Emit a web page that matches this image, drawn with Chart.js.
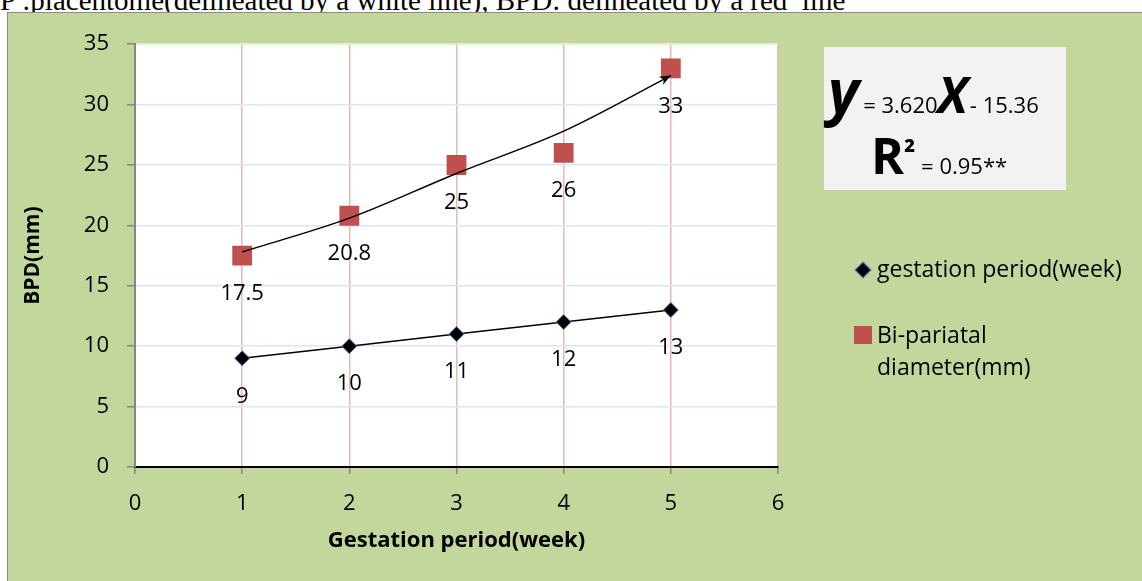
<!DOCTYPE html>
<html lang="en">
<head>
  <meta charset="UTF-8">
  <title>BPD vs gestation period</title>
  <style>
    body { margin: 0; width: 1142px; height: 581px; overflow: hidden; position: relative; background: #fff; }
    #caption {
      position: absolute; left: 0; top: -15px;
      font: 29px "Liberation Serif", serif; line-height: 30px; white-space: nowrap;
    }
    #panel {
      position: absolute; left: 7px; top: 12px; width: 1134px; height: 568px;
      background: #c3d69b; border-left: 1px solid #8c8c8c; border-top: 1px solid #8c8c8c;
    }
    #equation {
      position: absolute; left: 824px; top: 47px; width: 242px; height: 143px;
      background: #f2f2f2; font-family: "Open Sans", sans-serif; color: #000;
    }
    #equation .row { position: absolute; white-space: nowrap; }
    .big { font-weight: bold; font-style: italic; }
  </style>
</head>
<body>
  <div id="caption">P :placentome(delineated by a white line), BPD: delineated by a red&nbsp; line</div>
  <div id="panel">
    <canvas id="chart"></canvas>
  </div>
  <div id="equation">
    <div class="row" style="left:4px; top:17px; line-height:52px;">
      <span class="big" style="font-size:60px; margin-right:4px;">y</span><span style="font-size:22px;">= 3.620</span><span class="big" style="font-size:50px; margin-right:2px;">X</span><span style="font-size:22px;">- 15.36</span>
    </div>
    <div class="row" style="left:47px; top:82px; line-height:52px;">
      <span style="font-size:50px; font-weight:bold;">R</span><span style="font-size:30px; font-weight:bold; vertical-align:top; position:relative; top:-2px;">²</span><span style="font-size:22px;"> = 0.95**</span>
    </div>
  </div>

  <script src="https://cdn.jsdelivr.net/npm/chart.js"></script>
  <script>
    // values
    const weeks = [1, 2, 3, 4, 5];
    const gestation = [9, 10, 11, 12, 13];
    const bpd = [17.5, 20.8, 25, 26, 33];
    // hand drawn arrow curve over the BPD points
    const arrowCurve = [17.8, 20.6, 24.3, 27.8, 32.4];
    const xTicks = [0, 1, 2, 3, 4, 5, 6];
    const yTicks = [0, 5, 10, 15, 20, 25, 30, 35];

    const legendNames = [['gestation period(week)'], ['Bi-pariatal', 'diameter(mm)']];

    Chart.defaults.font.family = '"Open Sans", sans-serif';
    Chart.defaults.font.size = 22;
    Chart.defaults.color = '#000';

    const toPoints = vals => vals.map((v, i) => ({ x: weeks[i], y: v }));

    // white plot area on the green panel
    const plotBg = {
      id: 'plotBg',
      beforeDraw(chart) {
        const { ctx, chartArea: a } = chart;
        ctx.save();
        ctx.fillStyle = '#fff';
        ctx.fillRect(a.left, a.top, a.right - a.left, a.bottom - a.top);
        ctx.restore();
      }
    };

    // value labels under each marker, arrow head, legend
    const extras = {
      id: 'extras',
      afterDatasetsDraw(chart) {
        const ctx = chart.ctx;
        ctx.save();
        ctx.font = '22px "Open Sans", sans-serif';
        ctx.fillStyle = '#000';
        ctx.textAlign = 'center';
        ctx.textBaseline = 'middle';
        [1, 2].forEach(i => {
          const ds = chart.data.datasets[i];
          chart.getDatasetMeta(i).data.forEach((pt, j) => {
            ctx.fillText(String(ds.data[j].y), pt.x, pt.y + 38);
          });
        });

        // arrow head at end of the curve
        const pts = chart.getDatasetMeta(0).data;
        const p1 = pts[pts.length - 2], p2 = pts[pts.length - 1];
        const ang = Math.atan2(p2.y - p1.y, p2.x - p1.x);
        ctx.translate(p2.x, p2.y);
        ctx.rotate(ang);
        ctx.beginPath();
        ctx.moveTo(0, 0);
        ctx.lineTo(-11, -4.5);
        ctx.lineTo(-8, 0);
        ctx.lineTo(-11, 4.5);
        ctx.closePath();
        ctx.fillStyle = '#000';
        ctx.fill();
        ctx.restore();
      },
      afterDraw(chart) {
        const ctx = chart.ctx;
        ctx.save();
        // diamond
        const dx = 855, dy = 257;
        ctx.beginPath();
        ctx.moveTo(dx, dy - 8); ctx.lineTo(dx + 8, dy); ctx.lineTo(dx, dy + 8); ctx.lineTo(dx - 8, dy);
        ctx.closePath();
        ctx.fillStyle = '#000'; ctx.fill();
        ctx.strokeStyle = '#4f81bd'; ctx.lineWidth = 1.2; ctx.stroke();
        // square
        ctx.fillStyle = '#c0504d';
        ctx.fillRect(846, 313, 18, 18);

        ctx.font = '23px "Open Sans", sans-serif';
        ctx.fillStyle = '#000';
        ctx.textAlign = 'left';
        ctx.textBaseline = 'middle';
        ctx.fillText(legendNames[0][0], 869, 257);
        ctx.fillText(legendNames[1][0], 869, 323);
        ctx.fillText(legendNames[1][1], 869, 355);
        ctx.restore();
      }
    };

    new Chart(document.getElementById('chart'), {
      type: 'scatter',
      data: {
        datasets: [
          {
            label: 'arrow',
            data: toPoints(arrowCurve),
            showLine: true,
            borderColor: '#000',
            borderWidth: 1.5,
            cubicInterpolationMode: 'monotone',
            pointRadius: 0,
            order: 0
          },
          {
            label: legendNames[0][0],
            data: toPoints(gestation),
            showLine: true,
            borderColor: '#000',
            borderWidth: 1.5,
            pointStyle: 'rectRot',
            pointRadius: 7.5,
            pointBackgroundColor: '#000',
            pointBorderColor: '#4f81bd',
            pointBorderWidth: 1,
            order: 1
          },
          {
            label: legendNames[1].join(' '),
            data: toPoints(bpd),
            showLine: false,
            pointStyle: 'rect',
            pointRadius: 14,
            pointBackgroundColor: '#c0504d',
            pointBorderColor: '#c0504d',
            pointBorderWidth: 0,
            order: 2
          }
        ]
      },
      options: {
        responsive: true,
        maintainAspectRatio: false,
        animation: false,
        layout: { padding: { left: 0, right: 364, top: 30, bottom: 0 } },
        plugins: { legend: { display: false }, tooltip: { enabled: false } },
        scales: {
          x: {
            type: 'linear',
            min: 0, max: 6,
            afterBuildTicks: s => { s.ticks = xTicks.map(v => ({ value: v })); },
            afterFit: s => { s.height = 114; },
            grid: { color: '#e6b9b8', lineWidth: 1.5, tickColor: '#868686', tickLength: 7 },
            border: { color: '#000', width: 2 },
            ticks: { padding: 17 },
            title: {
              display: true, text: 'Gestation period(week)',
              font: { size: 22, weight: 'bold' },
              padding: { top: 0, bottom: 27 }
            }
          },
          y: {
            min: 0, max: 35,
            afterBuildTicks: s => { s.ticks = yTicks.map(v => ({ value: v })); },
            afterFit: s => { s.width = 127; },
            grid: { color: '#dce6f2', lineWidth: 1.5, tickColor: '#868686', tickLength: 8 },
            border: { color: '#868686', width: 2 },
            ticks: { padding: 18 },
            title: {
              display: true, text: 'BPD(mm)',
              font: { size: 21, weight: 'bold' },
              padding: { top: 12, bottom: 0 }
            }
          }
        }
      },
      plugins: [plotBg, extras]
    });
  </script>
</body>
</html>
